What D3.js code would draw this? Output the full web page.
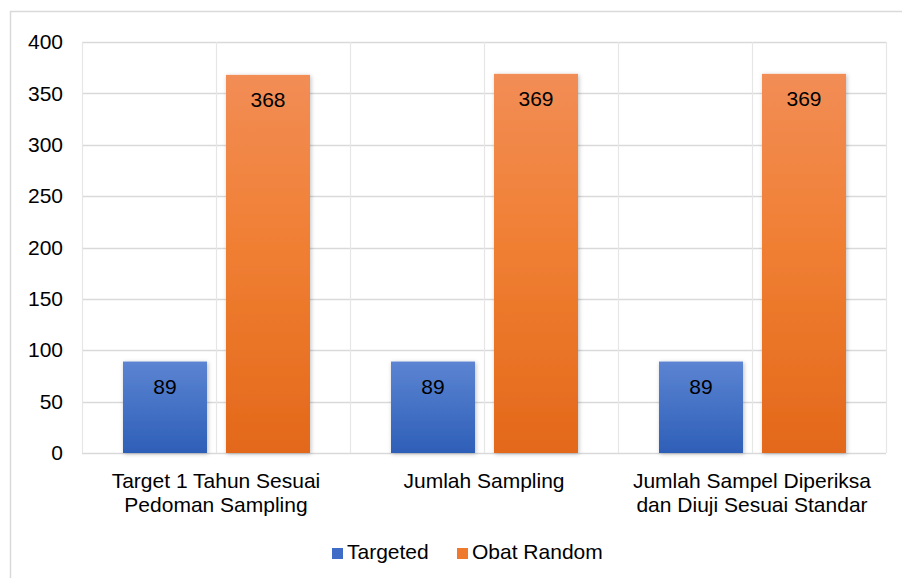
<!DOCTYPE html>
<html>
<head>
<meta charset="utf-8">
<script src="https://cdn.jsdelivr.net/npm/d3@7/dist/d3.min.js"></script>
<style>
html,body{margin:0;padding:0;background:#fff;}
svg{display:block;font-family:"Liberation Sans",Arial,sans-serif;}
</style>
</head>
<body>
<svg id="chart" width="902" height="578"></svg>
<script>
const categories = [
  ["Target 1 Tahun Sesuai", "Pedoman Sampling"],
  ["Jumlah Sampling"],
  ["Jumlah Sampel Diperiksa", "dan Diuji Sesuai Standar"]
];
const seriesNames = ["Targeted", "Obat Random"];
const targeted = [89, 89, 89];
const obatRandom = [368, 369, 369];
const yTicks = [0, 50, 100, 150, 200, 250, 300, 350, 400];

const FS = 21;
const svg = d3.select("#chart");
const m = {left: 82, top: 42};
const plotW = 886 - 82, plotH = 453 - 42;

// outer chart border
svg.append("rect").attr("x", 10.5).attr("y", 11.5).attr("width", 1000).attr("height", 1000)
  .attr("fill", "none").attr("stroke", "#d9d9d9").attr("stroke-width", 1.5);

const defs = svg.append("defs");
const gb = defs.append("linearGradient").attr("id", "gBlue").attr("x1", 0).attr("y1", 0).attr("x2", 0).attr("y2", 1);
gb.append("stop").attr("offset", 0).attr("stop-color", "#5c84d2");
gb.append("stop").attr("offset", 1).attr("stop-color", "#2e5fb8");
const go = defs.append("linearGradient").attr("id", "gOrange").attr("x1", 0).attr("y1", 0).attr("x2", 0).attr("y2", 1);
go.append("stop").attr("offset", 0).attr("stop-color", "#f28d56");
go.append("stop").attr("offset", 0.45).attr("stop-color", "#f07f33");
go.append("stop").attr("offset", 1).attr("stop-color", "#e3681a");
const sh = defs.append("filter").attr("id", "shadow").attr("x", "-20%").attr("y", "-10%").attr("width", "140%").attr("height", "120%");
sh.append("feDropShadow").attr("dx", 1).attr("dy", 1).attr("stdDeviation", 2).attr("flood-color", "#000").attr("flood-opacity", 0.25);

const g = svg.append("g").attr("transform", `translate(${m.left},${m.top})`);

const y = d3.scaleLinear().domain([0, 400]).range([plotH, 0]);
const x0 = d3.scaleBand().domain(d3.range(categories.length)).range([0, plotW]).paddingInner(0).paddingOuter(0);
const x1 = d3.scaleBand().domain(seriesNames).range([41, 228]).paddingInner(0.184).paddingOuter(0);

// horizontal gridlines
g.append("g").selectAll("line").data(yTicks).join("line")
  .attr("x1", 0).attr("x2", plotW)
  .attr("y1", d => Math.round(y(d)) + 0.5).attr("y2", d => Math.round(y(d)) + 0.5)
  .attr("stroke", "#d9d9d9").attr("stroke-width", 1.5);

// vertical gridlines at category edges and centers
const vLines = [];
categories.forEach((c, i) => { vLines.push(x0(i)); vLines.push(x0(i) + x0.bandwidth() / 2); });
vLines.push(plotW);
g.append("g").selectAll("line").data(vLines).join("line")
  .attr("x1", d => Math.round(d) + 0.5).attr("x2", d => Math.round(d) + 0.5)
  .attr("y1", 0).attr("y2", plotH)
  .attr("stroke", "#e6e6e6").attr("stroke-width", 1.2);

// y axis labels
const yAxis = d3.axisLeft(y).tickValues(yTicks).tickSize(0).tickPadding(19);
const ya = g.append("g").call(yAxis);
ya.select(".domain").remove();
ya.selectAll("text").attr("font-size", FS).attr("fill", "#000").attr("font-family", "Liberation Sans, Arial, sans-serif");

// bars
const data = categories.map((c, i) => ({i, vals: [{s: seriesNames[0], v: targeted[i]}, {s: seriesNames[1], v: obatRandom[i]}]}));
const groups = g.selectAll("g.cat").data(data).join("g").attr("class", "cat")
  .attr("transform", d => `translate(${x0(d.i)},0)`);
groups.selectAll("rect").data(d => d.vals).join("rect")
  .attr("x", d => x1(d.s)).attr("width", x1.bandwidth())
  .attr("y", d => y(d.v)).attr("height", d => plotH - y(d.v))
  .attr("fill", d => d.s === seriesNames[0] ? "url(#gBlue)" : "url(#gOrange)")
  .attr("filter", "url(#shadow)");
groups.selectAll("text.val").data(d => d.vals).join("text").attr("class", "val")
  .attr("x", d => x1(d.s) + x1.bandwidth() / 2)
  .attr("y", d => y(d.v) + 32)
  .attr("text-anchor", "middle").attr("font-size", FS).attr("fill", "#000")
  .text(d => d.v);

// x axis labels
const xl = g.append("g").attr("transform", `translate(0,${plotH})`);
categories.forEach((lines, i) => {
  const cx = x0(i) + x0.bandwidth() / 2;
  const t = xl.append("text").attr("text-anchor", "middle").attr("font-size", FS).attr("fill", "#000").attr("x", cx);
  lines.forEach((ln, k) => t.append("tspan").attr("x", cx).attr("y", 35 + k * 24).text(ln));
});

// legend
const legend = svg.append("g").attr("transform", "translate(0,559)");
const legItems = [{name: seriesNames[0], color: "#3f6cc6", x: 332}, {name: seriesNames[1], color: "#ef7a2e", x: 457}];
legItems.forEach(d => {
  legend.append("rect").attr("x", d.x).attr("y", -11).attr("width", 11).attr("height", 11).attr("fill", d.color);
  legend.append("text").attr("x", d.x + 15).attr("y", 0).attr("font-size", FS).attr("fill", "#000").text(d.name);
});
</script>
</body>
</html>
